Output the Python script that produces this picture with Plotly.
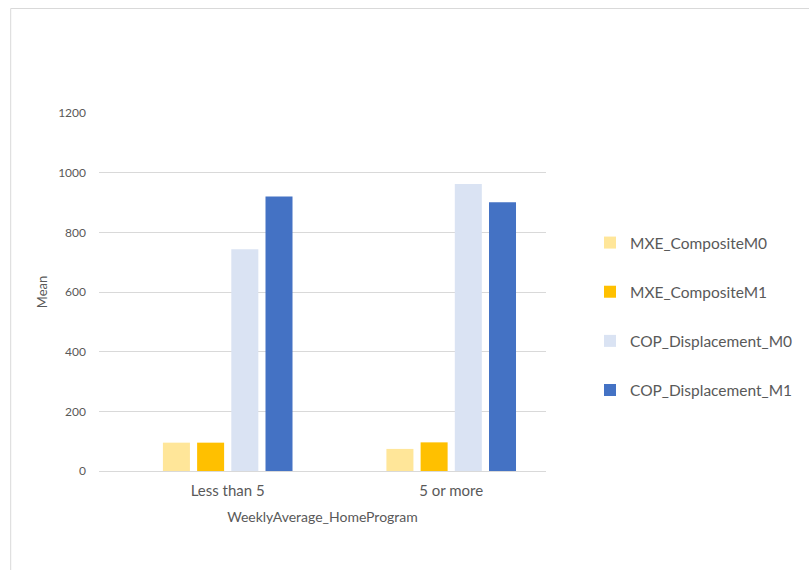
import plotly.graph_objects as go

categories = ["Less than 5", "5 or more"]
series_names = ["MXE_CompositeM0", "MXE_CompositeM1", "COP_Displacement_M0", "COP_Displacement_M1"]
mxe_m0 = [95, 74]
mxe_m1 = [95, 96]
cop_m0 = [743, 962]
cop_m1 = [920, 901]
colors = ["#FFE699", "#FFC000", "#DAE3F3", "#4472C4"]
y_ticks = [0, 200, 400, 600, 800, 1000, 1200]

FONT = "Lato, Open Sans, sans-serif"
TXT = "#595959"

fig = go.Figure()
for i, (name, vals) in enumerate(zip(series_names, [mxe_m0, mxe_m1, cop_m0, cop_m1])):
    fig.add_trace(go.Bar(
        x=categories, y=vals, name=name, legendgroup=name,
        marker=dict(color=colors[i], line=dict(width=0)),
    ))

# plot area pixels: x 99..547, y 113..471 in 809x570
L, R, T, B = 99, 547, 113, 471
W, H = 809, 570
pw, ph = R - L, B - T

def px_x(p):
    return (p - L) / pw

def px_y(p):
    return (B - p) / ph

fig.update_layout(
    width=W, height=H,
    margin=dict(l=L, r=W - R, t=T, b=H - B, pad=0),
    paper_bgcolor="white", plot_bgcolor="white",
    barmode="group", bargap=0.388, bargroupgap=0.21,
    font=dict(family=FONT, color=TXT, size=12),
    xaxis=dict(
        type="category", range=[(L - 228) / 224, (R - 228) / 224],
        showgrid=False, showline=True, linecolor="#d9d9d9", linewidth=1,
        ticks="", ticklabelstandoff=6, tickfont=dict(size=15, color=TXT),
        title=dict(text="WeeklyAverage_HomeProgram", font=dict(size=14, color=TXT), standoff=14),
        fixedrange=True,
    ),
    yaxis=dict(
        range=[0, 1200], tickvals=y_ticks, ticktext=[str(v) for v in y_ticks],
        showgrid=True, gridcolor="#d9d9d9", gridwidth=1,
        zeroline=False, showline=False, ticks="", ticklabelstandoff=12,
        tickfont=dict(size=12, color=TXT),
        title=dict(text="Mean", font=dict(size=13, color=TXT), standoff=7),
    ),
    legend=dict(
        x=px_x(590), y=px_y(226), xanchor="left", yanchor="top",
        font=dict(size=15.5, color=TXT, family=FONT),
        tracegroupgap=26, itemwidth=30, bgcolor="rgba(0,0,0,0)",
        traceorder="grouped",
    ),
    showlegend=True,
    shapes=[dict(
        type="rect", xref="paper", yref="paper",
        x0=px_x(10.5), x1=px_x(820), y0=px_y(580), y1=px_y(8.5),
        line=dict(color="#d9d9d9", width=1), fillcolor="rgba(0,0,0,0)", layer="below",
    )],
)

fig.write_html("out.html")
